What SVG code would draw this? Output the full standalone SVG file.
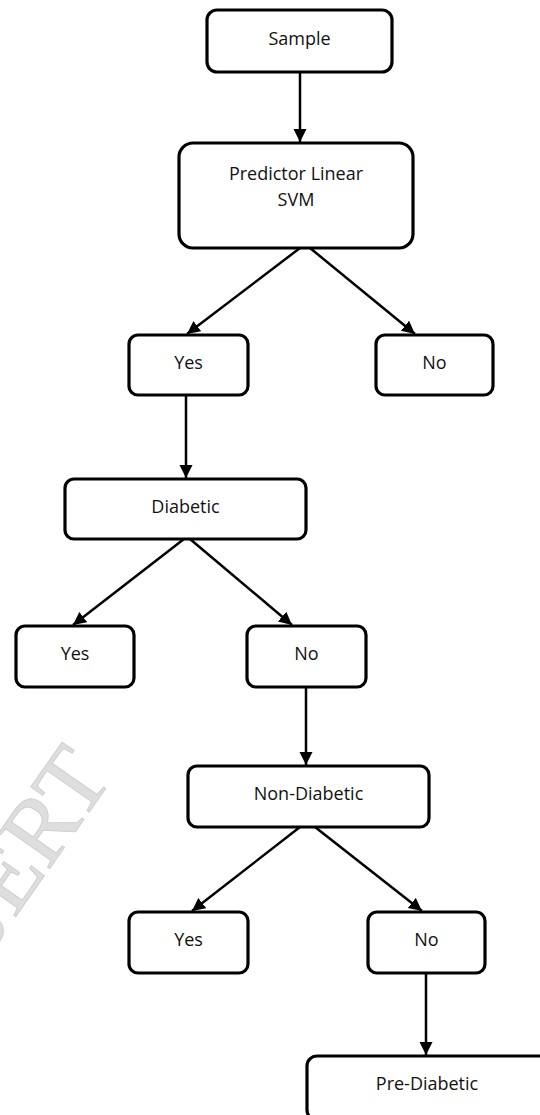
<svg xmlns="http://www.w3.org/2000/svg" width="540" height="1115" viewBox="0 0 540 1115">
<style>
.box{fill:#fff;stroke:#000;stroke-width:3.2}
.lbl{font-family:"Open Sans","Liberation Sans",sans-serif;font-size:18px;fill:#111;text-anchor:middle}
.con{stroke:#000;stroke-width:2.5;fill:none;marker-end:url(#ah)}
.wm{font-family:"Liberation Serif",serif;font-size:95px;fill:#dedede;stroke:#cfcfcf;stroke-width:1}
</style>
<defs>
<marker id="ah" markerUnits="userSpaceOnUse" markerWidth="14" markerHeight="14" refX="13" refY="6.5" orient="auto">
<path d="M0,0 L13,6.5 L0,13 z" fill="#000"/>
</marker>
</defs>
<rect width="540" height="1115" fill="#fff"/>
<text class="wm" transform="translate(-25,975) rotate(-55)">IJERT</text>
<g id="connectors">
<line class="con" x1="300" y1="72" x2="300" y2="142"/>
<line class="con" x1="300" y1="248" x2="187" y2="334"/>
<line class="con" x1="310" y1="248" x2="415" y2="334"/>
<line class="con" x1="186" y1="395" x2="186" y2="478"/>
<line class="con" x1="184" y1="539" x2="73" y2="625"/>
<line class="con" x1="190" y1="539" x2="292" y2="625"/>
<line class="con" x1="306" y1="687" x2="306" y2="765"/>
<line class="con" x1="300" y1="827" x2="192" y2="911"/>
<line class="con" x1="315" y1="827" x2="422" y2="911"/>
<line class="con" x1="426" y1="973" x2="426" y2="1055"/>
</g>
<g id="sample"><rect class="box" x="207" y="10" width="185" height="62" rx="10"/><text class="lbl" x="299.5" y="45">Sample</text></g>
<g id="predictor"><rect class="box" x="179" y="143" width="234" height="105" rx="14"/><text class="lbl" x="296" y="180">Predictor Linear</text><text class="lbl" x="296" y="206">SVM</text></g>
<g id="yes1"><rect class="box" x="129" y="335" width="119" height="60" rx="9"/><text class="lbl" x="188.5" y="369">Yes</text></g>
<g id="no1"><rect class="box" x="376" y="335" width="117" height="60" rx="9"/><text class="lbl" x="434.5" y="369">No</text></g>
<g id="diabetic"><rect class="box" x="65" y="479" width="241" height="60" rx="9"/><text class="lbl" x="185.5" y="513">Diabetic</text></g>
<g id="yes2"><rect class="box" x="16" y="626" width="118" height="61" rx="9"/><text class="lbl" x="75" y="660">Yes</text></g>
<g id="no2"><rect class="box" x="247" y="626" width="119" height="61" rx="9"/><text class="lbl" x="306.5" y="660">No</text></g>
<g id="nondiabetic"><rect class="box" x="188" y="766" width="241" height="61" rx="9"/><text class="lbl" x="308.5" y="800">Non-Diabetic</text></g>
<g id="yes3"><rect class="box" x="129" y="912" width="119" height="61" rx="9"/><text class="lbl" x="188.5" y="946">Yes</text></g>
<g id="no3"><rect class="box" x="368" y="912" width="117" height="61" rx="9"/><text class="lbl" x="426.5" y="946">No</text></g>
<g id="prediabetic"><rect class="box" x="307" y="1056" width="250" height="64" rx="10"/><text class="lbl" x="427" y="1090">Pre-Diabetic</text></g>
</svg>
